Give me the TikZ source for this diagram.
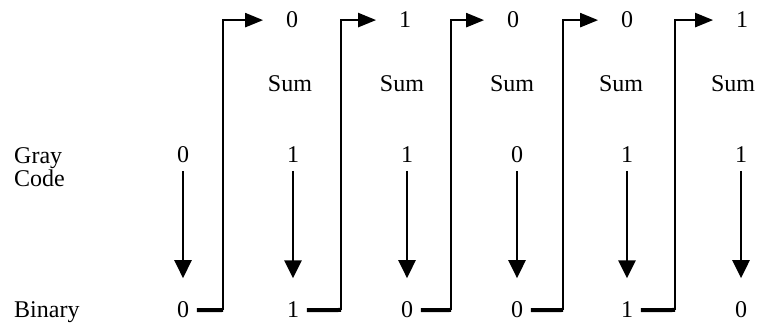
\documentclass[tikz,border=0pt]{standalone}
\usepackage{fontspec}
\setmainfont{Liberation Serif}
\usetikzlibrary{arrows.meta}

\begin{document}
\begin{tikzpicture}[x=0.5pt,y=-0.5pt,line width=1.2pt,>={Triangle[length=9pt,width=7pt]},
  every node/.style={font=\fontsize{12}{11.5}\selectfont}]
  \useasboundingbox (0,0) rectangle (759,324);
  % row labels
  \node[anchor=north west,align=left,inner sep=0pt] (graylbl) at (13,146) {Gray\\Code};
  \node[anchor=base west,inner sep=0pt] (binlbl) at (13,318) {Binary};
  % gray code bits and binary bits
  \foreach \i/\x/\g/\b in {1/183/0/0,2/293/1/1,3/407/1/0,4/517/0/0,5/627/1/1,6/741/1/0}{
    \node[anchor=base] (g\i) at (\x,163) {\g};
    \node[anchor=base] (b\i) at (\x,318) {\b};
    \draw[-{Triangle[length=9pt,width=8.5pt]},line width=1.4pt,shorten >=8pt] (g\i) -- (b\i);
  }
  % sums
  \foreach \i/\x/\y/\s in {2/292/290/0,3/405/402/1,4/513/512/0,5/627/621/0,6/742/733/1}{
    \node[anchor=base] (s\i) at (\x,28) {\s};
    \node[anchor=base] (sum\i) at (\y,92) {Sum};
  }
  % carry brackets
  \foreach \i/\j/\v in {1/2/223,2/3/341,3/4/451,4/5/563,5/6/675}{
    \coordinate (k\i) at (\v,310);
    \draw[line width=2pt] (b\i) -- (k\i);
    \draw[->,shorten >=7.5pt] (k\i) |- (s\j);
  }
\end{tikzpicture}
\end{document}
